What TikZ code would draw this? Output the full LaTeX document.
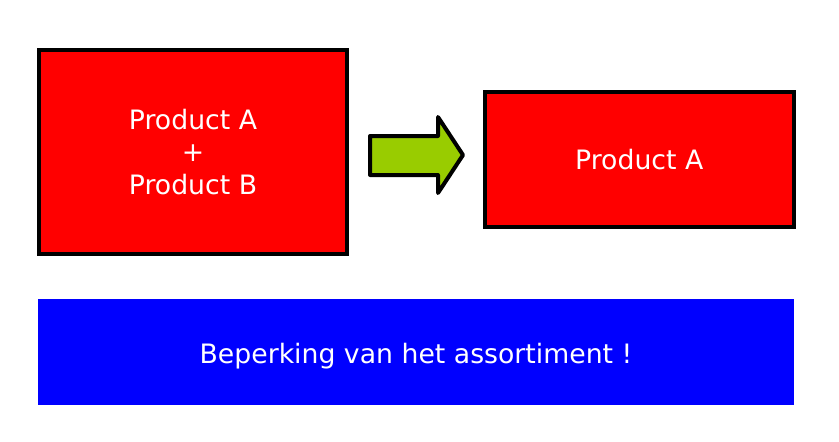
\documentclass[tikz,border=0pt]{standalone}
\usepackage{fontspec}
\setmainfont{DejaVu Sans}
\definecolor{pijlgroen}{RGB}{153,204,0}
\tikzset{
  rodedoos/.style={draw=black, line width=0.08cm, fill=red, text=white,
    align=center, inner sep=0pt, font=\fontsize{15.2}{18.6}\selectfont},
  blauwbalk/.style={fill=blue, text=white, inner sep=0pt,
    font=\fontsize{15.2}{18.6}\selectfont}
}
\begin{document}
\begin{tikzpicture}[x=0.02cm, y=-0.02cm]

\useasboundingbox (0,0) rectangle (839,441);

% Voor de beperking
\node[rodedoos, minimum width=6.18cm, minimum height=4.08cm]
  (prodAB) at (193,152) {Product A\\+\\Product B};

% Pijl
\draw[line width=0.08cm, line join=round, fill=pijlgroen]
(370,136) --
(438,136) --
(438,117) --
(463,155) --
(438,193) --
(438,175) --
(370,175) --
cycle;

% Na de beperking
\node[rodedoos, minimum width=6.19cm, minimum height=2.71cm]
  (prodA) at (639.25,159.5) {Product A};

% Conclusie
\node[blauwbalk, minimum width=15.12cm, minimum height=2.12cm,
  text height=0.56cm]
  (beperking) at (416,352) {Beperking van het assortiment !};

\end{tikzpicture}
\end{document}
